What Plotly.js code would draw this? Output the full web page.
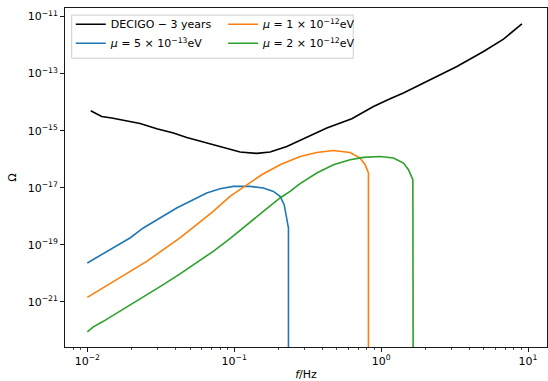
<!DOCTYPE html>
<html><head><meta charset="utf-8">
<script src="https://cdn.plot.ly/plotly-3.0.1.min.js"></script>
<style>html,body{margin:0;padding:0;background:#fff}#chart{width:548px;height:381px}</style>
</head><body><div id="chart"></div>
<script>
// DECIGO 3-year sensitivity
const decigoF = [0.01054,0.01253,0.01466,0.01758,0.02286,0.02972,0.03855,0.04753,0.06166,0.07925,0.1096,0.1425,0.1754,0.2280,0.3119,0.4266,0.6313,0.8868,1.151,1.418,2.156,3.279,4.977,6.808,9.08];
const decigoOmega = [4.99e-15,3.15e-15,2.77e-15,2.29e-15,1.79e-15,1.17e-15,8.26e-16,5.79e-16,4.0e-16,2.74e-16,1.79e-16,1.60e-16,1.79e-16,2.81e-16,5.79e-16,1.24e-15,2.62e-15,7.06e-15,1.31e-14,2.08e-14,6.08e-14,1.77e-13,5.95e-13,1.62e-12,5.55e-12];
// mu = 5e-13 eV
const mu5e13F = [0.01,0.01219,0.01502,0.01951,0.02404,0.03126,0.04055,0.05260,0.06501,0.08000,0.09862,0.1282,0.1578,0.1849,0.2051,0.2188,0.2280,0.2339,0.2339];
const mu5e13Omega = [2.32e-20,4.18e-20,7.78e-20,1.74e-19,3.90e-19,8.73e-19,1.95e-18,3.82e-18,6.56e-18,9.27e-18,1.12e-17,1.12e-17,9.82e-18,7.46e-18,4.99e-18,2.55e-18,8.73e-19,3.90e-19,1e-30];
// mu = 1e-12 eV
const mu1e12F = [0.01,0.01219,0.01502,0.01951,0.02535,0.03289,0.04276,0.05546,0.07194,0.09354,0.1216,0.1538,0.2051,0.2806,0.3648,0.4732,0.6152,0.7194,0.7780,0.8196,0.8196];
const mu1e12Omega = [1.45e-21,2.69e-21,5.26e-21,1.18e-20,2.64e-20,6.78e-20,1.74e-19,5.09e-19,1.49e-18,4.99e-18,1.28e-17,2.86e-17,6.41e-17,1.25e-16,1.73e-16,2.03e-16,1.73e-16,1.10e-16,6.41e-17,3.29e-17,1e-30];
// mu = 2e-12 eV
const mu2e12F = [0.01,0.01099,0.01285,0.01502,0.01951,0.02535,0.03289,0.04276,0.05546,0.07194,0.09354,0.1216,0.1578,0.2051,0.2399,0.2806,0.3648,0.4732,0.6152,0.7568,0.9842,1.213,1.419,1.535,1.644,1.660];
const mu2e12Omega = [8.91e-23,1.33e-22,2.09e-22,3.40e-22,7.42e-22,1.70e-21,4.03e-21,9.55e-21,2.32e-20,5.92e-20,1.64e-19,5.09e-19,1.49e-18,4.38e-18,7.46e-18,1.39e-17,3.29e-17,6.41e-17,9.59e-17,1.16e-16,1.25e-16,1.10e-16,7.36e-17,4.29e-17,1.91e-17,1e-30];

const xTickVals = [0.01,0.1,1,10];
const xTickText = ['10<sup>−2</sup>','10<sup>−1</sup>','10<sup>0</sup>','10<sup>1</sup>'];
const yTickVals = [1e-11,1e-13,1e-15,1e-17,1e-19,1e-21];
const yTickText = ['10<sup>−11</sup>','10<sup>−13</sup>','10<sup>−15</sup>','10<sup>−17</sup>','10<sup>−19</sup>','10<sup>−21</sup>'];

const labels = {
  decigo: 'DECIGO − 3 years',
  m5: '<i>μ</i> = 5 × 10<sup>−13</sup>eV',
  m1: '<i>μ</i> = 1 × 10<sup>−12</sup>eV',
  m2: '<i>μ</i> = 2 × 10<sup>−12</sup>eV'
};

const minorX = [];
for (let k = -3; k <= 1; k++) for (let m = 2; m <= 9; m++) minorX.push(m * Math.pow(10, k));

const lw = 1.6;
const traces = [
  {x: decigoF, y: decigoOmega, mode:'lines', name: labels.decigo, line:{color:'#000000', width:lw}, legend:'legend'},
  {x: mu5e13F, y: mu5e13Omega, mode:'lines', name: labels.m5, line:{color:'#1f77b4', width:lw}, legend:'legend2'},
  {x: mu1e12F, y: mu1e12Omega, mode:'lines', name: labels.m1, line:{color:'#ff7f0e', width:lw}, legend:'legend3'},
  {x: mu2e12F, y: mu2e12Omega, mode:'lines', name: labels.m2, line:{color:'#2ca02c', width:lw}, legend:'legend4'}
];

const tf = {family:'DejaVu Sans, sans-serif', size:11, color:'#000'};
function leg(x, y) {
  return {x:x, y:y, bgcolor:'rgba(0,0,0,0)', borderwidth:0, font:tf,
    xanchor:'left', yanchor:'top', orientation:'v', itemwidth:30};
}

const layout = {
  width:548, height:381,
  margin:{l:65, r:1, t:8, b:34},
  paper_bgcolor:'#fff', plot_bgcolor:'#fff',
  font: tf,
  showlegend:true,
  xaxis:{
    type:'log', range:[-2.152, 1.129],
    tickmode:'array', tickvals:xTickVals, ticktext:xTickText,
    ticks:'outside', ticklen:4, tickwidth:0.9, tickcolor:'#000',
    minor:{tickmode:'array', tickvals:minorX, ticks:'outside', ticklen:2, tickwidth:0.7, tickcolor:'#000', showgrid:false},
    showline:true, linecolor:'#000', linewidth:0.9, mirror:true,
    showgrid:false, zeroline:false, tickfont:tf,
    title:{text:'<i>f</i>/Hz', font:tf, standoff:4}
  },
  yaxis:{
    type:'log', range:[-22.58, -10.70],
    tickmode:'array', tickvals:yTickVals, ticktext:yTickText,
    ticks:'outside', ticklen:4, tickwidth:0.9, tickcolor:'#000',
    showline:true, linecolor:'#000', linewidth:0.9, mirror:true,
    showgrid:false, zeroline:false, tickfont:tf,
    title:{text:'Ω', font:tf, standoff:8}
  },
  legend: leg(0.012, 0.995),
  legend2: leg(0.012, 0.939),
  legend3: leg(0.328, 0.995),
  legend4: leg(0.328, 0.939),
  shapes:[{
    type:'rect', xref:'paper', yref:'paper', x0:0.0139, x1:0.598, y0:0.852, y1:0.979,
    line:{color:'#cccccc', width:1}, fillcolor:'rgba(255,255,255,0.8)', layer:'below'
  }]
};

Plotly.newPlot('chart', traces, layout, {displayModeBar:false, staticPlot:true});
</script>
</body></html>
